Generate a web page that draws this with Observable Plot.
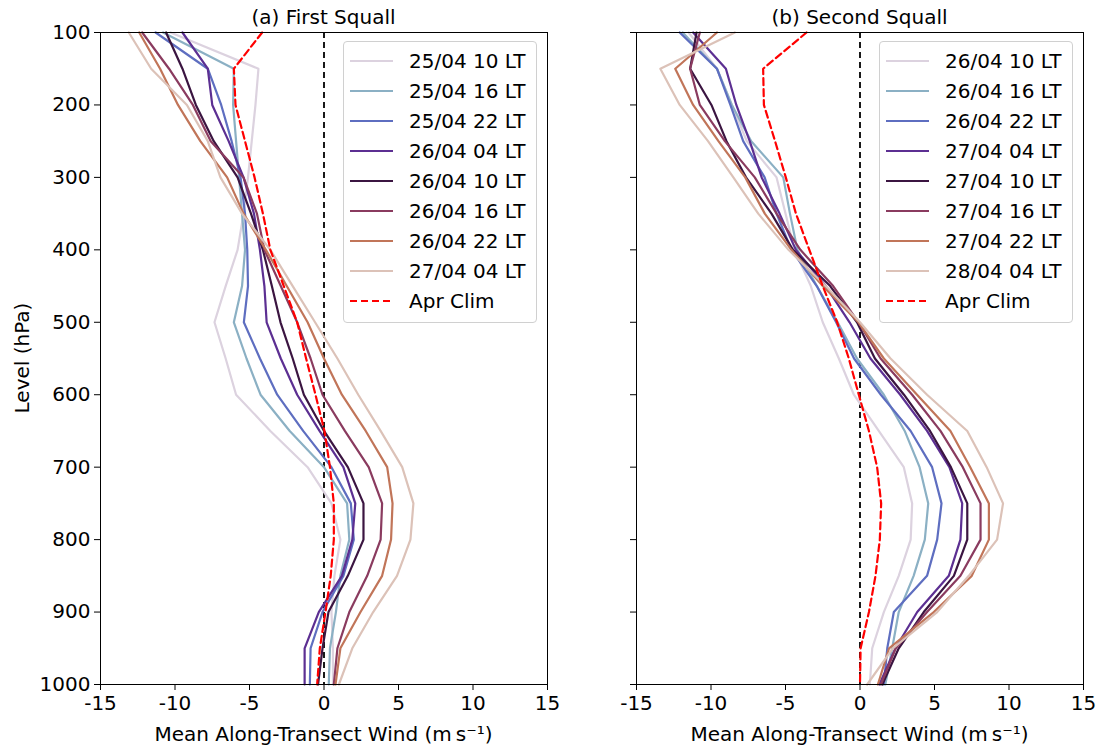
<!DOCTYPE html>
<html><head><meta charset="utf-8">
<script src="https://cdn.jsdelivr.net/npm/d3@7"></script>
<script src="https://cdn.jsdelivr.net/npm/@observablehq/plot@0.6"></script>
<style>
body{margin:0;background:#fff;font-family:"DejaVu Sans",sans-serif;color:#000;}
#wrap{position:relative;width:1098px;height:751px;overflow:hidden;}
.panel{position:absolute;top:0;overflow:visible;}
.txt{position:absolute;font-size:20px;white-space:nowrap;line-height:24px;}
.legend{position:absolute;border:1px solid #d0d0d0;border-radius:4px;background:rgba(255,255,255,0.85);padding:4px 0 6px 0;box-sizing:border-box;}
.row{display:flex;align-items:center;height:30px;font-size:20px;}
.row svg{margin-left:6px;margin-right:16px;}
</style>
</head><body>
<div id="wrap"></div>
<script>
// ---------- data ----------
const levels = [100,150,200,250,300,350,400,450,500,550,600,650,700,750,800,850,900,950,1000];
const xTicks = [-15,-10,-5,0,5,10,15];
const yTicks = [100,200,300,400,500,600,700,800,900,1000];
const colors = ["#dcd2df","#8bb0c4","#5e6ec0","#5c2f92","#3b1541","#8a3b5f","#c17559","#dcc2b8"];

const namesA = ["25/04 10 LT","25/04 16 LT","25/04 22 LT","26/04 04 LT","26/04 10 LT","26/04 16 LT","26/04 22 LT","27/04 04 LT"];
const namesB = ["26/04 10 LT","26/04 16 LT","26/04 22 LT","27/04 04 LT","27/04 10 LT","27/04 16 LT","27/04 22 LT","28/04 04 LT"];
const climName = "Apr Clim";

// First squall (panel a)
const a1 = [-10.3,-4.4,-4.6,-4.85,-5.1,-5.4,-5.8,-6.6,-7.35,-6.6,-5.9,-3.6,-1.1,0.5,1.1,0.7,0.5,0.6,0.6];
const a2 = [-10.8,-6.05,-6.1,-5.9,-5.7,-5.5,-5.3,-5.5,-6.05,-5.2,-4.26,-2.3,0.0,1.55,1.7,1.1,0.8,0.4,0.32];
const a3 = [-11.3,-7.8,-6.9,-6.2,-5.6,-5.3,-5.15,-5.1,-5.38,-4.3,-3.14,-1.4,0.5,1.8,2.0,1.3,-0.1,-0.9,-0.95];
const a4 = [-9.5,-7.8,-7.5,-6.4,-5.4,-4.7,-4.3,-4.0,-3.85,-2.9,-1.8,-0.3,1.3,2.1,1.9,1.2,-0.35,-1.3,-1.3];
const a5 = [-10.6,-9.5,-8.6,-7.4,-5.8,-4.9,-4.1,-3.5,-2.92,-2.1,-1.35,0.0,1.6,2.65,2.65,1.6,0.3,-0.1,-0.4];
const a6 = [-12.2,-10.4,-8.8,-7.6,-5.4,-4.5,-4.0,-2.9,-1.8,-0.9,-0.1,1.4,3.0,3.9,3.8,2.9,1.7,0.9,0.66];
const a7 = [-12.4,-11.0,-9.8,-8.3,-6.5,-5.4,-3.9,-2.5,-1.1,0.0,1.2,2.8,4.24,4.6,4.5,3.9,2.45,1.1,0.77];
const a8 = [-13.1,-11.6,-9.2,-7.8,-6.95,-5.5,-3.6,-2.1,-0.6,0.9,2.3,3.8,5.25,6.0,5.8,4.9,3.3,1.9,1.0];
const aClim = [-4.15,-6.05,-5.94,-5.3,-4.66,-4.1,-3.6,-2.7,-1.8,-1.2,-0.57,0.03,0.4,0.66,0.66,0.45,0.1,-0.28,-0.46];

// Second squall (panel b)
const b1 = [-11.5,-9.6,-8.6,-7.6,-5.6,-5.0,-4.4,-3.3,-2.5,-1.42,-0.41,1.26,2.94,3.5,3.4,2.6,1.6,0.82,0.66];
const b2 = [-11.9,-9.6,-8.6,-7.3,-5.15,-4.7,-4.2,-2.9,-1.5,-0.2,1.6,3.0,4.0,4.58,4.35,3.6,2.6,2.16,1.7];
const b3 = [-12.1,-9.6,-8.7,-7.84,-6.4,-5.6,-4.6,-2.9,-1.6,-0.4,1.4,3.4,4.84,5.47,5.18,4.5,2.27,1.83,1.6];
const b4 = [-11.2,-9.0,-8.3,-7.4,-6.6,-5.4,-4.3,-2.3,-0.7,0.7,2.7,4.5,6.0,6.86,6.74,5.96,3.84,2.38,1.3];
const b5 = [-10.97,-11.4,-9.97,-8.96,-7.65,-5.94,-4.5,-2.0,-0.2,1.0,2.95,4.7,6.1,7.2,7.2,6.3,4.28,2.6,1.5];
const b6 = [-10.75,-11.4,-10.75,-9.07,-7.06,-5.6,-4.0,-1.8,-0.1,1.38,3.5,5.4,6.9,8.09,8.09,6.74,4.5,2.4,1.4];
const b7 = [-9.6,-12.4,-11.2,-9.5,-7.7,-6.39,-4.6,-2.5,-0.1,1.6,3.83,6.07,7.4,8.65,8.65,7.5,4.95,1.95,1.2];
const b8 = [-8.4,-13.4,-12.1,-10.2,-8.5,-6.83,-4.8,-2.3,0.0,2.05,4.5,7.2,8.5,9.6,9.2,7.3,5.18,2.2,0.48];
const bClim = [-3.59,-6.5,-6.45,-5.7,-4.98,-4.3,-3.4,-2.5,-1.53,-0.75,-0.08,0.6,1.15,1.42,1.33,1.04,0.6,0.04,0.0];

const titles = ["(a) First Squall","(b) Second Squall"];
const xLabel = "Mean Along-Transect Wind (m\u2009s\u207B\u00B9)";
const yLabel = "Level (hPa)";

// ---------- drawing ----------
const W = 549, H = 751, MT = 32, MB = 67;
const wrap = document.getElementById("wrap");

function makePanel(names, series, clim, opts) {
  const rows = [];
  series.forEach((s, i) => levels.forEach((p, j) => rows.push({name: names[i], p, v: s[j]})));
  const climRows = levels.map((p, j) => ({p, v: clim[j]}));
  const chart = Plot.plot({
    width: W, height: H,
    marginLeft: opts.ml, marginRight: opts.mr, marginTop: MT, marginBottom: MB,
    style: {fontFamily: "DejaVu Sans, sans-serif", fontSize: "20px", color: "#000", background: "transparent", overflow: "visible"},
    x: {domain: [-15, 15]},
    y: {domain: [1000, 100]},
    color: {domain: names, range: colors},
    marks: [
      Plot.ruleX([0], {stroke: "black", strokeWidth: 1.8, strokeDasharray: "6,4"}),
      Plot.line(rows, {x: "v", y: "p", z: "name", stroke: "name", strokeWidth: 2.2}),
      Plot.line(climRows, {x: "v", y: "p", stroke: "red", strokeWidth: 2.2, strokeDasharray: "7,4"}),
      Plot.frame({stroke: "black", strokeWidth: 1}),
      Plot.axisX({ticks: xTicks, tickFormat: d => String(d), tickSize: 6, tickPadding: 5, label: null, fontSize: 20}),
      Plot.axisY({ticks: yTicks, tickFormat: opts.showY ? (d => String(d)) : (() => ""), tickSize: 6, tickPadding: 4, label: null, fontSize: 20})
    ]
  });
  chart.classList.add("panel");
  chart.style.left = opts.left + "px";
  chart.style.overflow = "visible";
  wrap.appendChild(chart);

  const cx = opts.left + opts.ml + (W - opts.ml - opts.mr) / 2;
  const t = document.createElement("div");
  t.className = "txt"; t.textContent = opts.title;
  t.style.left = cx + "px"; t.style.top = "5px"; t.style.transform = "translateX(-50%)";
  wrap.appendChild(t);

  const xl = document.createElement("div");
  xl.className = "txt"; xl.textContent = xLabel;
  xl.style.left = cx + "px"; xl.style.top = "722px"; xl.style.transform = "translateX(-50%)";
  wrap.appendChild(xl);

  // legend
  const lg = document.createElement("div");
  lg.className = "legend";
  lg.style.left = opts.legLeft + "px"; lg.style.top = "41px"; lg.style.width = "194px";
  const entries = names.map((n, i) => ({n, c: colors[i], dash: null})).concat([{n: climName, c: "red", dash: "7,4"}]);
  entries.forEach(e => {
    const r = document.createElement("div"); r.className = "row";
    const s = d3.create("svg").attr("width", 43).attr("height", 6);
    s.append("line").attr("x1", 0).attr("x2", 43).attr("y1", 3).attr("y2", 3)
      .attr("stroke", e.c).attr("stroke-width", 2.2).attr("stroke-dasharray", e.dash);
    r.appendChild(s.node());
    const sp = document.createElement("span"); sp.textContent = e.n;
    r.appendChild(sp);
    lg.appendChild(r);
  });
  wrap.appendChild(lg);
}

makePanel(namesA, [a1,a2,a3,a4,a5,a6,a7,a8], aClim, {left: 0, ml: 100, mr: 2, showY: true, title: titles[0], legLeft: 343});
makePanel(namesB, [b1,b2,b3,b4,b5,b6,b7,b8], bClim, {left: 549, ml: 87, mr: 15, showY: false, title: titles[1], legLeft: 879});

const yl = document.createElement("div");
yl.className = "txt"; yl.textContent = yLabel;
yl.style.left = "22px"; yl.style.top = "358px";
yl.style.transform = "translate(-50%,-50%) rotate(-90deg)";
wrap.appendChild(yl);
</script>
</body></html>
